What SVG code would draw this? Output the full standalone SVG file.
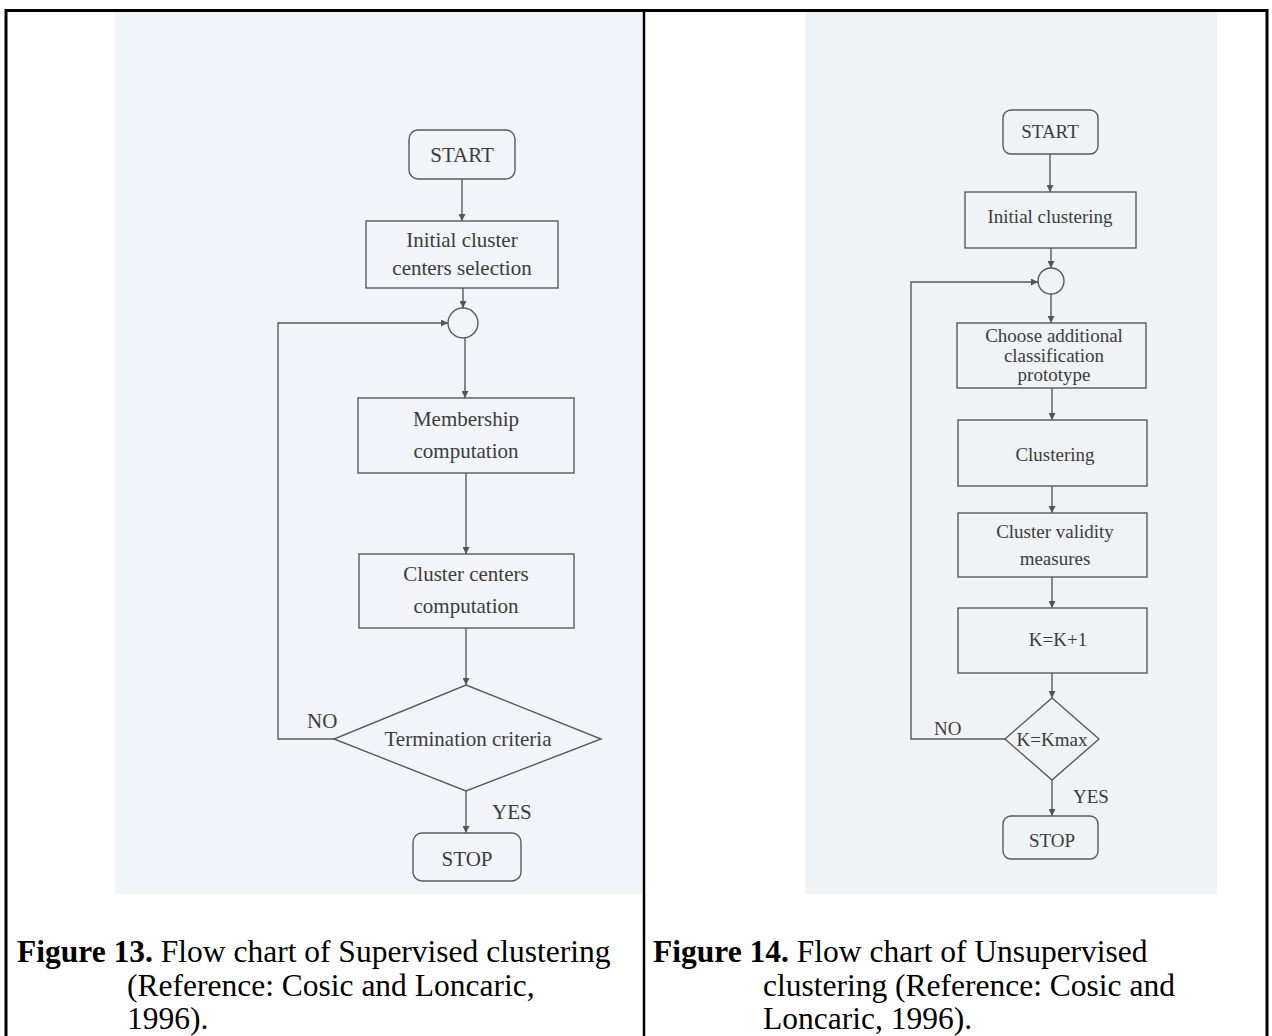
<svg xmlns="http://www.w3.org/2000/svg" width="1272" height="1036" viewBox="0 0 1272 1036">
<defs>
<marker id="ah" viewBox="0 0 10 10" refX="10" refY="5" markerWidth="7" markerHeight="7" markerUnits="userSpaceOnUse" orient="auto">
<path d="M0,0 L10,5 L0,10 z" fill="#555"/>
</marker>
<style>
.box{fill:none;stroke:#5a5a5a;stroke-width:1.4}
.arr{fill:none;stroke:#5a5a5a;stroke-width:1.4;marker-end:url(#ah)}
.t1{font-family:"Liberation Serif","Times New Roman",serif;font-size:21px;fill:#3c3c3c;text-anchor:middle}
.t2{font-family:"Liberation Serif","Times New Roman",serif;font-size:19px;fill:#3c3c3c;text-anchor:middle}
.lbl1{font-family:"Liberation Serif","Times New Roman",serif;font-size:21px;fill:#3c3c3c}
.lbl2{font-family:"Liberation Serif","Times New Roman",serif;font-size:19px;fill:#3c3c3c}
.cap{font-family:"Liberation Serif","Times New Roman",serif;font-size:31.5px;fill:#000}
.b{font-weight:bold}
</style>
</defs>
<rect x="0" y="0" width="1272" height="1036" fill="#fff"/>
<rect x="115" y="12" width="528" height="882" fill="#f1f4f8"/>
<rect x="805" y="11" width="412" height="883" fill="#eff3f6"/>
<g id="frame" fill="none" stroke="#000">
<rect x="6" y="10.5" width="1261" height="1040" stroke-width="3"/>
<line x1="644" y1="10" x2="644" y2="1036" stroke-width="2.5"/>
</g>
<g id="connectors">
<line class="arr" x1="462" y1="179" x2="462" y2="221"/>
<line class="arr" x1="463" y1="288" x2="463" y2="308"/>
<line class="arr" x1="465" y1="338" x2="465" y2="398"/>
<line class="arr" x1="466" y1="473" x2="466" y2="554"/>
<line class="arr" x1="466" y1="628" x2="466" y2="685"/>
<polyline class="arr" points="334,739 278,739 278,323 448,323"/>
<line class="arr" x1="466" y1="791" x2="466" y2="833"/>
<line class="arr" x1="1050" y1="154" x2="1050" y2="192"/>
<line class="arr" x1="1051" y1="248" x2="1051" y2="268"/>
<line class="arr" x1="1051" y1="294" x2="1051" y2="323"/>
<line class="arr" x1="1052" y1="388" x2="1052" y2="420"/>
<line class="arr" x1="1052" y1="486" x2="1052" y2="513"/>
<line class="arr" x1="1052" y1="577" x2="1052" y2="608"/>
<line class="arr" x1="1052" y1="673" x2="1052" y2="698"/>
<polyline class="arr" points="1005,739 911,739 911,282 1038,282"/>
<line class="arr" x1="1052" y1="780" x2="1052" y2="816"/>
<text class="lbl1" x="307" y="728">NO</text>
<text class="lbl1" x="492" y="819">YES</text>
<text class="lbl2" x="934" y="735">NO</text>
<text class="lbl2" x="1073" y="803">YES</text>
</g>
<g id="l-start"><rect class="box" x="409" y="130" width="106" height="49" rx="9"/><text class="t1" x="462" y="162">START</text></g>
<g id="l-init"><rect class="box" x="366" y="221" width="192" height="67"/><text class="t1" x="462" y="247">Initial cluster</text><text class="t1" x="462" y="275">centers selection</text></g>
<g id="l-join"><circle class="box" cx="463" cy="323" r="15"/></g>
<g id="l-member"><rect class="box" x="358" y="398" width="216" height="75"/><text class="t1" x="466" y="426">Membership</text><text class="t1" x="466" y="458">computation</text></g>
<g id="l-centers"><rect class="box" x="359" y="554" width="215" height="74"/><text class="t1" x="466" y="581">Cluster centers</text><text class="t1" x="466" y="613">computation</text></g>
<g id="l-term"><polygon class="box" points="466,685 601,739 466,791 334,739"/><text class="t1" x="468" y="746">Termination criteria</text></g>
<g id="l-stop"><rect class="box" x="413" y="833" width="108" height="48" rx="9"/><text class="t1" x="467" y="866">STOP</text></g>
<g id="r-start"><rect class="box" x="1003" y="110" width="95" height="44" rx="8"/><text class="t2" x="1050" y="138">START</text></g>
<g id="r-init"><rect class="box" x="965" y="192" width="171" height="56"/><text class="t2" x="1050" y="223">Initial clustering</text></g>
<g id="r-join"><circle class="box" cx="1051" cy="281" r="13"/></g>
<g id="r-choose"><rect class="box" x="957" y="323" width="189" height="65"/><text class="t2" x="1054" y="342">Choose additional</text><text class="t2" x="1054" y="362">classification</text><text class="t2" x="1054" y="381">prototype</text></g>
<g id="r-clust"><rect class="box" x="958" y="420" width="189" height="66"/><text class="t2" x="1055" y="461">Clustering</text></g>
<g id="r-valid"><rect class="box" x="958" y="513" width="189" height="64"/><text class="t2" x="1055" y="538">Cluster validity</text><text class="t2" x="1055" y="565">measures</text></g>
<g id="r-inc"><rect class="box" x="958" y="608" width="189" height="65"/><text class="t2" x="1058" y="646">K=K+1</text></g>
<g id="r-kmax"><polygon class="box" points="1052,698 1099,739 1052,780 1005,739"/><text class="t2" x="1052" y="746">K=Kmax</text></g>
<g id="r-stop"><rect class="box" x="1003" y="816" width="95" height="43" rx="8"/><text class="t2" x="1052" y="847">STOP</text></g>
<g id="captions">
<text class="cap" x="17" y="962"><tspan class="b">Figure 13.</tspan> Flow chart of Supervised clustering</text>
<text class="cap" x="127" y="996">(Reference: Cosic and Loncaric,</text>
<text class="cap" x="127" y="1029">1996).</text>
<text class="cap" x="653" y="962"><tspan class="b">Figure 14.</tspan> Flow chart of Unsupervised</text>
<text class="cap" x="763" y="996">clustering (Reference: Cosic and</text>
<text class="cap" x="763" y="1029">Loncaric, 1996).</text>
</g>
</svg>
